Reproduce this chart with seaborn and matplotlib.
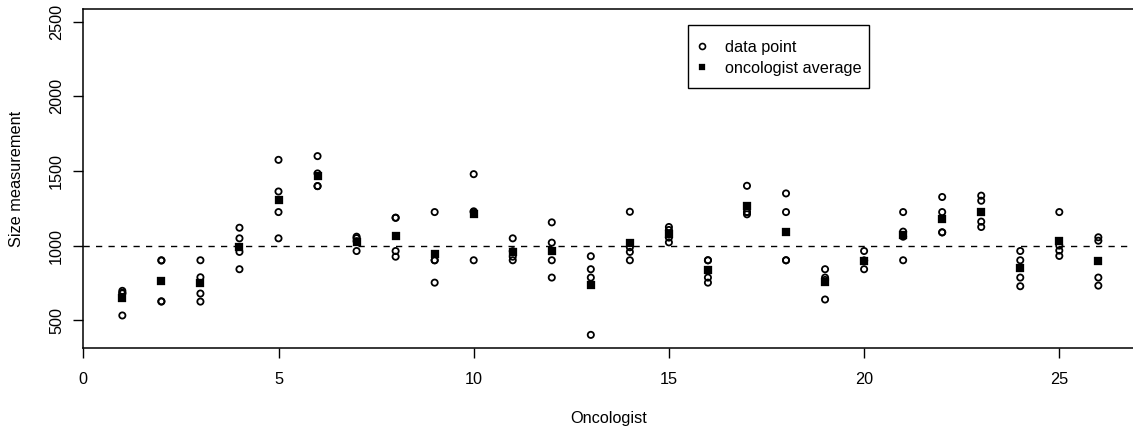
import matplotlib
matplotlib.use("Agg")
import matplotlib.pyplot as plt
from matplotlib.lines import Line2D
from matplotlib.patches import Rectangle
import pandas as pd
import seaborn as sns

# Four size readings per oncologist, plus each oncologist's average
oncologists = list(range(1, 27))
measurements = [
    [697, 684, 680, 532],
    [902, 900, 627, 625],
    [902, 788, 679, 625],
    [1120, 1049, 958, 842],
    [1575, 1363, 1225, 1049],
    [1600, 1484, 1399, 1399],
    [1060, 1050, 1030, 964],
    [1187, 1187, 964, 926],
    [1225, 902, 902, 752],
    [1479, 1230, 1225, 902],
    [1049, 963, 926, 902],
    [1156, 1020, 902, 786],
    [929, 842, 786, 402],
    [1227, 989, 958, 902],
    [1125, 1105, 1054, 1022],
    [902, 902, 786, 752],
    [1401, 1225, 1225, 1210],
    [1350, 1225, 902, 902],
    [842, 786, 770, 639],
    [964, 900, 900, 842],
    [1225, 1094, 1060, 902],
    [1326, 1225, 1089, 1089],
    [1335, 1301, 1161, 1125],
    [964, 902, 786, 728],
    [1225, 1000, 967, 931],
    [1056, 1033, 786, 732],
]
averages = [648, 766, 748, 993, 1306, 1468, 1025, 1065, 944, 1210, 960, 967, 737,
            1016, 1078, 837, 1265, 1094, 759, 900, 1069, 1181, 1227, 848, 1031, 897]
reference_size = 1000
x_ticks = [0, 5, 10, 15, 20, 25]
y_ticks = [500, 1000, 1500, 2000, 2500]
legend_labels = ["data point", "oncologist average"]

points = pd.DataFrame(
    [(o, v) for o, vals in zip(oncologists, measurements) for v in vals],
    columns=["oncologist", "size"],
)
means = pd.DataFrame({"oncologist": oncologists, "size": averages})

sns.set_style("ticks")
plt.rcParams["font.family"] = ["Liberation Sans", "DejaVu Sans"]
plt.rcParams["text.color"] = "black"
plt.rcParams["axes.labelcolor"] = "black"
plt.rcParams["xtick.color"] = "black"
plt.rcParams["ytick.color"] = "black"

FS = 11.7
W, H = 1133, 438
fig = plt.figure(figsize=(W / 100, H / 100), dpi=100)
left_px, right_px, top_px, bottom_px = 83.3, 1133, 9.3, 347.7
ax = fig.add_axes([left_px / W, 1 - bottom_px / H,
                   (right_px - left_px) / W, (bottom_px - top_px) / H])

ax.axhline(reference_size, color="black", lw=1.0, ls=(0, (4.5, 4.5)), zorder=1)

sns.scatterplot(data=points, x="oncologist", y="size", ax=ax, marker="o", s=20,
                color="black", facecolor="none", edgecolor="black",
                linewidth=1.3, legend=False, zorder=3)
sns.scatterplot(data=means, x="oncologist", y="size", ax=ax, marker="s", s=27,
                color="black", edgecolor="black", linewidth=0.2,
                legend=False, zorder=4)

ax.set_xlim(0, (right_px - left_px) / 39.04)
ax.set_ylim(316, 2584)
ax.set_xticks(x_ticks)
ax.set_yticks(y_ticks)
ax.set_yticklabels([str(t) for t in y_ticks], rotation=90, va="center")

for side in ["top", "left", "bottom"]:
    ax.spines[side].set_linewidth(1.1)
    ax.spines[side].set_color("black")
ax.spines["right"].set_visible(False)

ax.tick_params(axis="both", direction="out", length=7.2, width=1.0,
               labelsize=FS, colors="black")
ax.tick_params(axis="x", pad=10.5)
ax.tick_params(axis="y", pad=6.6)

ax.set_xlabel("Oncologist", fontsize=FS)
ax.set_ylabel("Size measurement", fontsize=FS)
ax.xaxis.set_label_coords(0.5, -0.187)
ax.yaxis.set_label_coords(-0.0565, 0.5)

# Legend in a plain rectangular frame
handles = [
    Line2D([], [], marker="o", ls="", mfc="none", mec="black", ms=4.3, mew=1.2),
    Line2D([], [], marker="s", ls="", mfc="black", mec="black", ms=5.0, mew=0.2),
]
fig.patches.append(Rectangle((687.7 / W, 1 - 87.7 / H), (869 - 687.7) / W,
                             (87.7 - 25) / H, transform=fig.transFigure,
                             fill=False, edgecolor="black", lw=1.0))
fig.legend(handles, legend_labels, loc="center left",
           bbox_to_anchor=(695.3 / W, 1 - 57.8 / H), frameon=False,
           borderpad=0, borderaxespad=0, handlelength=0.8, handletextpad=1.0,
           labelspacing=0.37, fontsize=FS)

fig.savefig("out.png", dpi=100)
